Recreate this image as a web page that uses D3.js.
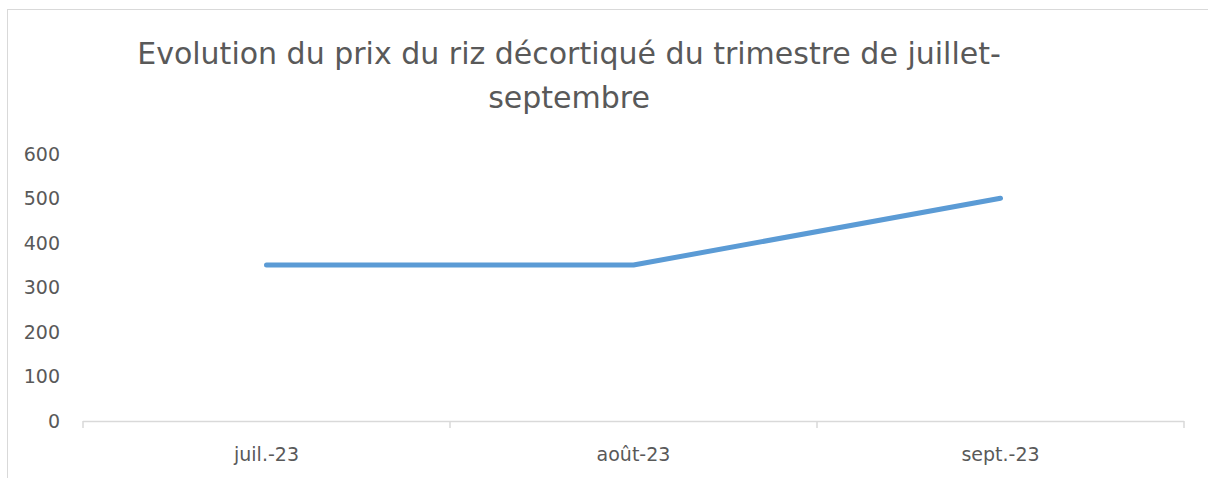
<!DOCTYPE html>
<html><head><meta charset="utf-8">
<script src="https://cdn.jsdelivr.net/npm/d3@7"></script>
<style>body{margin:0;background:#fff;}svg{display:block;}</style>
</head><body>
<svg id="c" width="1208" height="478"></svg>
<script>
const categories = ["juil.-23", "août-23", "sept.-23"];
const values = [350, 350, 500];
const yTicks = [0, 100, 200, 300, 400, 500, 600];
const titleLines = ["Evolution du prix du riz décortiqué du trimestre de juillet-", "septembre"];

const svg = d3.select("#c");
const font = "'DejaVu Sans', sans-serif";
const txt = "#595959";

svg.append("rect").attr("x", 7.5).attr("y", 9.5).attr("width", 1220).attr("height", 500)
  .attr("fill", "#fff").attr("stroke", "#d9d9d9").attr("stroke-width", 1);

const x = d3.scaleBand().domain(categories).range([83, 1184]);
const y = d3.scaleLinear().domain([0, 600]).range([421, 153.6]);

// title
svg.append("g").selectAll("text").data(titleLines).join("text")
  .attr("x", 569).attr("y", (d, i) => 64 + i * 44)
  .attr("text-anchor", "middle").attr("fill", txt)
  .style("font-family", font).style("font-size", "30px").text(d => d);

// y labels
svg.append("g").selectAll("text").data(yTicks).join("text")
  .attr("x", 60).attr("y", d => y(d)).attr("dy", "0.37em")
  .attr("text-anchor", "end").attr("fill", txt)
  .style("font-family", font).style("font-size", "19px").text(d => d);

// x axis
const xa = svg.append("g").attr("transform", "translate(0,421)")
  .call(d3.axisBottom(x).tickSize(0).tickPadding(0));
xa.select(".domain").remove();
xa.selectAll("text").remove();
xa.append("line").attr("x1", 83).attr("x2", 1184).attr("y1", 0.5).attr("y2", 0.5)
  .attr("stroke", "#d9d9d9").attr("stroke-width", 1.5);
const bounds = categories.map(c => x(c)).concat([x(categories[categories.length-1]) + x.bandwidth()]);
xa.selectAll(".tk").data(bounds).join("line").attr("class", "tk")
  .attr("x1", d => d).attr("x2", d => d).attr("y1", 0).attr("y2", 7)
  .attr("stroke", "#d9d9d9").attr("stroke-width", 1.5);
xa.selectAll(".lbl").data(categories).join("text").attr("class", "lbl")
  .attr("x", d => x(d) + x.bandwidth() / 2).attr("y", 40)
  .attr("text-anchor", "middle").attr("fill", txt)
  .style("font-family", font).style("font-size", "19px").text(d => d);

// line
const line = d3.line().x((d, i) => x(categories[i]) + x.bandwidth() / 2).y(d => y(d));
svg.append("path").datum(values).attr("d", line)
  .attr("fill", "none").attr("stroke", "#5b9bd5").attr("stroke-width", 5)
  .attr("stroke-linecap", "round").attr("stroke-linejoin", "round");
</script>
</body></html>
